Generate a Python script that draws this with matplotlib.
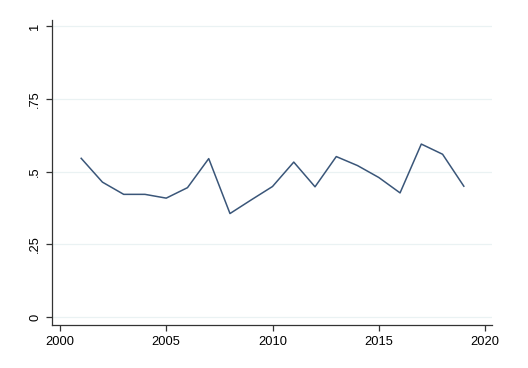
import matplotlib
matplotlib.use("Agg")
import matplotlib.pyplot as plt

years = list(range(2001, 2020))
share = [0.546, 0.464, 0.422, 0.422, 0.409, 0.445, 0.545, 0.356, 0.403, 0.449,
         0.533, 0.448, 0.552, 0.521, 0.480, 0.427, 0.595, 0.560, 0.450]
xticks = [2000, 2005, 2010, 2015, 2020]
yticks = [0, 0.25, 0.5, 0.75, 1]
ylabels = ["0", ".25", ".5", ".75", "1"]

plt.rcParams['font.family'] = ['Liberation Sans', 'DejaVu Sans']

fig = plt.figure(figsize=(5.28, 3.68), dpi=100)
ax = fig.add_axes([0.0994, 0.1168, 0.8326, 0.829])

ax.plot(years, share, color='#3a5679', lw=1.1)

ax.set_xlim(1999.65, 2020.33)
ax.set_ylim(-0.0275, 1.022)
ax.set_xticks(xticks)
ax.set_yticks(yticks)
ax.set_yticklabels(ylabels, rotation=90, va='center')
ax.tick_params(labelsize=9.3, color='#333333', length=4.5, width=0.9)
ax.yaxis.grid(True, color='#eaf2f3', lw=0.9)
ax.set_axisbelow(True)
for s in ['top', 'right']:
    ax.spines[s].set_visible(False)
for s in ['left', 'bottom']:
    ax.spines[s].set_color('#333333')
    ax.spines[s].set_linewidth(0.9)

fig.savefig('out.png', dpi=100)
